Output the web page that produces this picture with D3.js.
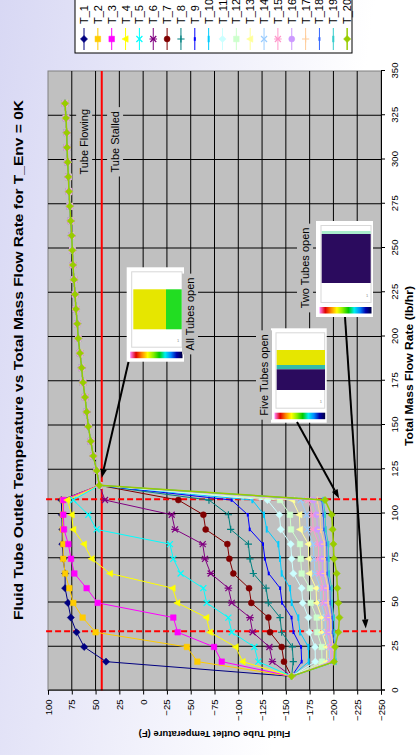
<!DOCTYPE html>
<html>
<head>
<meta charset="utf-8">
<script src="https://cdn.jsdelivr.net/npm/d3@7"></script>
<style>
  html, body { margin: 0; padding: 0; background: #fff; }
  svg { display: block; font-family: Arial, "Liberation Sans", sans-serif; }
</style>
</head>
<body>
<svg id="chart" width="416" height="755"></svg>
<script>
// ---- data -------------------------------------------------------------
// Total mass flow rate (lb/hr) at which each tube outlet was sampled
const flowLow = [8, 16.3, 24.6, 32.9, 41.2, 49.5, 57.8, 66.1, 74.4, 82.7, 91, 99.3, 107.6];
// Above this range every tube is open and all outlets share one temperature
const flowHigh = [115.9, 124.2, 132.5, 140.8, 149.1, 157.4, 165.7, 174, 182.3, 190.6, 198.9, 207.2, 215.5, 223.8,
                  232.1, 240.4, 248.7, 257, 265.3, 273.6, 281.9, 290.2, 298.5, 306.8, 315.1, 323.4, 331.7];
const tempHigh = [46, 48.8, 52.4, 55, 57.6, 59.3, 61.1, 63.2, 64.6, 66.4, 68.2, 69.2, 70.6, 71.6,
                  72.7, 73.8, 74.4, 75.1, 76.1, 77.1, 77.9, 78.6, 79.3, 80, 80.3, 81.1, 82.1];

// Outlet temperature (F) of each tube at the flows in flowLow
const t1  = [-156, 39, 62, 70, 76, 79, 82, 82, 84, 85, 85, 85.5, 86];
const t2  = [-156, -57, -46, 50, 63.6, 73.4, 77.6, 82, 84, 84, 84.5, 84.5, 84.6];
const t3  = [-156, -82.6, -74.5, -36.3, -31.7, 47.8, 59.4, 72.3, 75.8, 78.6, 83.2, 83.9, 83.9];
const t4  = [-156, -104.6, -97.3, -70.3, -66.5, -36, -31, 34.8, 54.1, 62.2, 73.4, 75.1, 79.7];
const t5  = [-156, -121, -116.9, -93.1, -89.6, -66.8, -63.3, -39.4, -31.7, -28.2, 48.9, 57.6, 73.4];
const t6  = [-156, -135.8, -132.7, -115.1, -112.3, -93.1, -89.6, -71, -65, -62.6, -33.5, -30, 40.1];
const t7  = [-156, -148, -145.6, -133.4, -131.6, -113.7, -111.3, -94.8, -90.6, -88.5, -65.7, -63.3, -37];
const t8  = [-156, -157.8, -156.8, -145.6, -143.9, -131.6, -129.2, -115.8, -112.3, -110.6, -92, -89.6, -69.2];
const t9  = [-156, -166.6, -166, -158, -156, -146, -144, -132, -128, -126, -112, -110, -93];
const t10 = [-156, -174, -173.7, -164.9, -163.1, -156.1, -154.4, -145.6, -143.9, -142.1, -129.9, -127, -114.8];
const t11 = [-156, -181, -180.7, -174.7, -173.7, -167.7, -166.6, -157.9, -156.1, -155.1, -144.6, -143.2, -130.6];
const t12 = [-156, -188, -187.7, -183.1, -182.4, -176.1, -175.4, -166.6, -165.6, -164.9, -155.4, -154.4, -143.9];
const t13 = [-156, -193, -192.9, -188, -187.7, -182.4, -181.7, -174.7, -174, -173.7, -164.9, -164.2, -156.8];
const t14 = [-156, -196, -195.7, -191.5, -191.2, -187, -186.6, -180.7, -179.6, -178.9, -172.6, -171.9, -165.6];
const t15 = [-156, -197.5, -197.1, -194.3, -194, -189.8, -189.4, -185.2, -184.5, -184.2, -178.9, -177.9, -173.7];
const t16 = [-156, -199, -198.9, -196.1, -195.7, -192.6, -192.2, -188.7, -188, -187.7, -183.1, -182.4, -178.9];
const t17 = [-156, -200, -199.9, -197.5, -197.1, -194.3, -194, -191.2, -190.8, -190.5, -186.6, -185.9, -183.1];
const t18 = [-156, -201.3, -201.3, -199.2, -198.9, -196.8, -196.4, -193.6, -193.3, -192.9, -190.1, -189.4, -187.7];
const t19 = [-156, -202.5, -202.7, -201, -200.6, -198.5, -198.2, -195.4, -195, -194.7, -191.9, -191.2, -189.4];
const t20 = [-156, -200.6, -201.7, -205.2, -206.3, -205.2, -204.1, -203.4, -200.6, -200, -199.2, -198.2, -191.2];

const seriesNames = ["T_1","T_2","T_3","T_4","T_5","T_6","T_7","T_8","T_9","T_10",
                     "T_11","T_12","T_13","T_14","T_15","T_16","T_17","T_18","T_19","T_20"];
const seriesTemps = [t1,t2,t3,t4,t5,t6,t7,t8,t9,t10,t11,t12,t13,t14,t15,t16,t17,t18,t19,t20];

const flowTicks = [0, 25, 50, 75, 100, 125, 150, 175, 200, 225, 250, 275, 300, 325, 350];
const tempTicks = [100, 75, 50, 25, 0, -25, -50, -75, -100, -125, -150, -175, -200, -225, -250];

const stallTemp = 43.5;           // solid red line
const regimeFlows = [33.5, 108];  // dashed red lines

// ---- styling ----------------------------------------------------------
const seriesColors = ["#000080","#FFCC00","#FF00FF","#FFFF00","#00FFFF","#800080","#800000","#008080","#0000FF","#00CCFF",
                      "#CCFFFF","#CCFFCC","#FFFF99","#99CCFF","#FF99CC","#CC99FF","#FFCC99","#3366FF","#33CCCC","#99CC00"];
const seriesMarkers = ["diamond","square","square","triangle","x","star","circle","plus","dot","dash",
                       "diamond","square","triangle","x","star","circle","plus","dot","dash","diamond"];

const W = 416, H = 755;
const svg = d3.select("#chart");
const defs = svg.append("defs");

const bg = defs.append("linearGradient").attr("id", "bgGrad")
  .attr("x1", 0).attr("y1", 0).attr("x2", 1).attr("y2", 0.25);
bg.append("stop").attr("offset", 0).attr("stop-color", "#d8d8f4");
bg.append("stop").attr("offset", 0.85).attr("stop-color", "#ffffff");
svg.append("rect").attr("width", W).attr("height", H).attr("fill", "url(#bgGrad)");

// The chart is laid out landscape (flow across, temperature up) and turned a quarter turn.
const g = svg.append("g").attr("transform", `translate(0,${H}) rotate(-90)`);

const x = d3.scaleLinear().domain([0, 350]).range([64.5, 684]);
const y = d3.scaleLinear().domain([-250, 100]).range([381, 48]);
const [x0, x1] = x.range(), [y0, y1] = [y(100), y(-250)];

// plot area
g.append("rect").attr("x", x0).attr("y", y0).attr("width", x1 - x0).attr("height", y1 - y0)
  .attr("fill", "#c0c0c0").attr("stroke", "#808080");

// gridlines
g.append("g").selectAll("line").data(flowTicks.filter(d => d > 0 && d < 350)).join("line")
  .attr("x1", d => x(d)).attr("x2", d => x(d)).attr("y1", y0).attr("y2", y1)
  .attr("stroke", "#000").attr("stroke-width", 1);
g.append("g").selectAll("line").data(tempTicks.filter(d => d < 100 && d > -250)).join("line")
  .attr("y1", d => y(d)).attr("y2", d => y(d)).attr("x1", x0).attr("x2", x1)
  .attr("stroke", "#000").attr("stroke-width", 1);

// page-space helper from data values
const px = (flow, temp) => [y(temp), H - x(flow)];

// annotation text with grey backing (drawn in page orientation)
function vLabel(parent, cx, cy, text, size) {
  const t = parent.append("text").attr("transform", `translate(${cx},${cy}) rotate(-90)`)
    .attr("text-anchor", "middle").attr("dominant-baseline", "central")
    .attr("font-size", size).attr("fill", "#000").text(text);
  const b = t.node().getBBox();
  parent.insert("rect", () => t.node())
    .attr("x", cx - b.height / 2 - 2).attr("y", cy - b.width / 2 - 4)
    .attr("width", b.height + 4).attr("height", b.width + 8).attr("fill", "#c0c0c0");
  return t;
}

const labelLayer = svg.append("g");
vLabel(labelLayer, ...px(310, 62), "Tube Flowing", 11);
vLabel(labelLayer, ...px(310, 29.5), "Tube Stalled", 11);

// stall line and regime boundaries
g.append("line").attr("x1", x0).attr("x2", x1).attr("y1", y(stallTemp)).attr("y2", y(stallTemp))
  .attr("stroke", "#ff0000").attr("stroke-width", 2);
g.append("g").selectAll("line").data(regimeFlows).join("line")
  .attr("x1", d => x(d)).attr("x2", d => x(d)).attr("y1", y(102)).attr("y2", y1)
  .attr("stroke", "#ff0000").attr("stroke-width", 2).attr("stroke-dasharray", "6,3");

// ---- series -----------------------------------------------------------
const markerPath = {
  diamond: "M0,-3.6L3.6,0L0,3.6L-3.6,0Z",
  square: "M-2.8,-2.8H2.8V2.8H-2.8Z",
  triangle: "M0,-3.6L3.3,2.6H-3.3Z",
  x: "M-3,-3L3,3M-3,3L3,-3",
  star: "M-3,-3L3,3M-3,3L3,-3M0,-3.8V3.8",
  plus: "M-3.6,0H3.6M0,-3.6V3.6",
  dot: "M-1.8,0H1.8",
  dash: "M-3.2,0H3.2"
};
function drawMarker(sel, type, color) {
  if (type === "circle") {
    sel.append("circle").attr("r", 3).attr("fill", color).attr("stroke", color).attr("stroke-width", 0.5);
  } else if (["diamond", "square", "triangle"].includes(type)) {
    sel.append("path").attr("d", markerPath[type]).attr("fill", color).attr("stroke", color).attr("stroke-width", 0.5);
  } else {
    sel.append("path").attr("d", markerPath[type]).attr("fill", "none").attr("stroke", color)
      .attr("stroke-width", type === "dot" || type === "dash" ? 2 : 1.2);
  }
}

const line = d3.line().x(d => x(d[0])).y(d => y(d[1]));
const series = seriesTemps.map((temps, i) => ({
  name: seriesNames[i],
  color: seriesColors[i],
  marker: seriesMarkers[i],
  points: flowLow.map((f, k) => [f, temps[k]]).concat(flowHigh.map((f, k) => [f, tempHigh[k]]))
}));

const sg = g.append("g");
series.forEach(s => {
  const gs = sg.append("g");
  gs.append("path").attr("d", line(s.points)).attr("fill", "none")
    .attr("stroke", s.color).attr("stroke-width", s.name === "T_20" ? 1.5 : 1);
  gs.selectAll("g.m").data(s.points).join("g").attr("class", "m")
    .attr("transform", d => `translate(${x(d[0])},${y(d[1])})`)
    .each(function () { drawMarker(d3.select(this), s.marker, s.color); });
});

// ---- axes -------------------------------------------------------------
const axT = g.append("g").attr("transform", `translate(${x0},0)`)
  .call(d3.axisLeft(y).tickValues(tempTicks).tickSize(4).tickPadding(5));
const axF = g.append("g").attr("transform", `translate(0,${y1})`)
  .call(d3.axisBottom(x).tickValues(flowTicks).tickSize(4).tickPadding(6));
[axT, axF].forEach(a => {
  a.select(".domain").attr("stroke", "#000");
  a.selectAll(".tick line").attr("stroke", "#000");
  a.selectAll(".tick text").attr("font-size", 9.5).attr("fill", "#000")
    .attr("font-family", "Arial, 'Liberation Sans', sans-serif");
});

// titles
g.append("text").attr("x", 395).attr("y", 18).attr("text-anchor", "middle").attr("dominant-baseline", "central")
  .attr("font-weight", "bold").attr("font-size", 13)
  .attr("textLength", 520).attr("lengthAdjust", "spacingAndGlyphs")
  .text("Fluid Tube Outlet Temperature vs Total Mass Flow Rate for T_Env = 0K");
g.append("text").attr("transform", `translate(21,${(y0 + y1) / 2}) rotate(-90)`).attr("text-anchor", "middle")
  .attr("dominant-baseline", "central").attr("font-weight", "bold").attr("font-size", 9.5)
  .text("Fluid Tube Outlet Temperature (F)");
g.append("text").attr("x", 389).attr("y", 409).attr("text-anchor", "middle").attr("dominant-baseline", "central")
  .attr("font-weight", "bold").attr("font-size", 11)
  .attr("textLength", 160).attr("lengthAdjust", "spacingAndGlyphs")
  .text("Total Mass Flow Rate (lb/hr)");

// ---- legend -----------------------------------------------------------
const leg = g.append("g");
leg.append("rect").attr("x", 702).attr("y", 75).attr("width", 70).attr("height", 277)
  .attr("fill", "#fff").attr("stroke", "#000");
series.forEach((s, i) => {
  const yy = 84 + i * 13.85;
  const it = leg.append("g").attr("transform", `translate(0,${yy})`);
  it.append("line").attr("x1", 705).attr("x2", 727).attr("stroke", s.color).attr("stroke-width", s.name === "T_20" ? 1.5 : 1);
  drawMarker(it.append("g").attr("transform", "translate(716,0)"), s.marker, s.color);
  it.append("text").attr("x", 731).attr("dominant-baseline", "central").attr("font-size", 11).text(s.name);
});

// ---- inset snapshots and arrows ---------------------------------------
const overlay = svg.append("g");
const barStops = ["#ff88ff", "#e00000", "#ff8800", "#ffff00", "#88ee00", "#00cc00", "#00eeee", "#0088ff", "#0000aa", "#000040"];
const cb = defs.append("linearGradient").attr("id", "cbar");
barStops.forEach((c, i) => cb.append("stop").attr("offset", i / (barStops.length - 1)).attr("stop-color", c));

function snapshot(bx, by, bw, bh, blocks) {
  const s = overlay.append("g");
  s.append("rect").attr("x", bx).attr("y", by).attr("width", bw).attr("height", bh).attr("fill", "#fff");
  s.append("rect").attr("x", bx + 5).attr("y", by + 4.5).attr("width", bw - 7).attr("height", bh - 19)
    .attr("fill", "#fff").attr("stroke", "#d8d8d8").attr("stroke-width", 1);
  blocks.forEach(b => s.append("rect").attr("x", bx + b[0]).attr("y", by + b[1]).attr("width", b[2]).attr("height", b[3]).attr("fill", b[4]));
  s.append("text").attr("x", bx + bw - 7).attr("y", by + bh - 20).attr("font-size", 4).attr("fill", "#888").text("1");
  s.append("rect").attr("x", bx + 3.5).attr("y", by + bh - 10).attr("width", bw - 5).attr("height", 6.5).attr("fill", "url(#cbar)");
}
snapshot(126.7, 267.3, 57.3, 94.4, [[6.6, 22, 32.7, 40, "#e6e600"], [39.3, 22, 15.7, 40, "#22dd22"]]);
snapshot(271, 328.3, 55.7, 94.4, [[5.7, 21.7, 48.3, 15, "#e6e600"], [5.7, 36.7, 48.3, 4.3, "#33bbaa"], [5.7, 41, 48.3, 20.7, "#2b0b5e"]]);
snapshot(316, 221, 57, 96, [[5.7, 10, 49, 3, "#aaeecc"], [5.7, 13, 49, 49, "#2b0b5e"]]);

vLabel(overlay, 190, 314, "All Tubes open", 11);
vLabel(overlay, 264, 375, "Five Tubes open", 11);
vLabel(overlay, 305, 268, "Two Tubes open", 11);

function arrow(from, to) {
  const dx = to[0] - from[0], dy = to[1] - from[1], L = Math.hypot(dx, dy);
  const ux = dx / L, uy = dy / L, hl = 9, hw = 3.2;
  const bxp = to[0] - ux * hl, byp = to[1] - uy * hl;
  overlay.append("line").attr("x1", from[0]).attr("y1", from[1]).attr("x2", bxp).attr("y2", byp)
    .attr("stroke", "#000").attr("stroke-width", 2);
  overlay.append("path").attr("d", `M${to[0]},${to[1]}L${bxp - uy * hw},${byp + ux * hw}L${bxp + uy * hw},${byp - ux * hw}Z`)
    .attr("fill", "#000");
}
arrow([128.5, 362], px(120, 43.6));
arrow([297, 422], px(108.5, -206));
arrow([345, 317], px(35, -234));
</script>
</body>
</html>
